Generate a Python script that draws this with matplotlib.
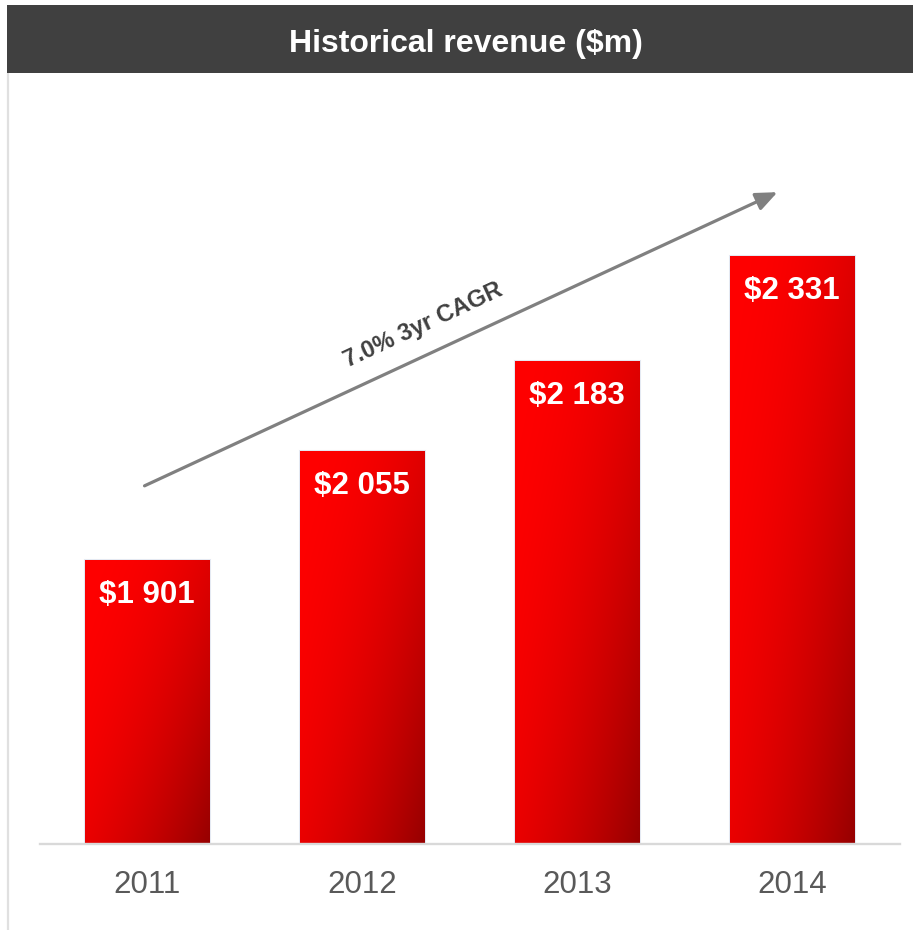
import numpy as np
import matplotlib
matplotlib.use("Agg")
import matplotlib.pyplot as plt
from matplotlib.patches import Rectangle, FancyArrowPatch

plt.rcParams['font.family'] = ['Liberation Sans', 'DejaVu Sans']

# Revenue by year ($m)
years = ["2011", "2012", "2013", "2014"]
revenue = [1901, 2055, 2183, 2331]
value_labels = ["$1 901", "$2 055", "$2 183", "$2 331"]
title = "Historical revenue ($m)"
cagr_label = "7.0% 3yr CAGR"

W, H = 913, 930
fig = plt.figure(figsize=(W / 100, H / 100), dpi=100)
fig.patch.set_facecolor("white")

# ---- bar panel ----
px_left, px_right = 39.5, 899.5
px_top, px_base = 100, 844
ax = fig.add_axes([px_left / W, (H - px_base) / H,
                   (px_right - px_left) / W, (px_base - px_top) / H])
ax.set_facecolor("white")
y0 = 1500
y1 = y0 + (px_base - px_top) / 0.7077
ax.set_xlim(-0.5, 3.5)
ax.set_ylim(y0, y1)

x = np.arange(len(years))
bar_w = 0.577

# diagonal red gradient: bright red top-left, dark red bottom-right
nx, ny = 120, 300
u = np.linspace(0, 1, nx)[None, :]
v = np.linspace(1, 0, ny)[:, None]  # image row 0 is top after origin='upper'
t = np.clip(0.55 * u + 0.45 * (1 - v), 0, 1) ** 2
red = (255 - t * (255 - 150)) / 255.0
grad = np.dstack([red, np.zeros_like(red), np.zeros_like(red)])

bars = ax.bar(x, [r - y0 for r in revenue], bottom=y0, width=bar_w,
              facecolor="white", edgecolor="#e4e9f2", linewidth=2.2, zorder=1)
for b, xi, val in zip(bars, x, revenue):
    im = ax.imshow(grad, extent=(xi - bar_w / 2, xi + bar_w / 2, y0, val),
                   origin="upper", aspect="auto", interpolation="bilinear",
                   zorder=2)
    im.set_clip_path(b)

for xi, val, lab in zip(x, revenue, value_labels):
    ax.annotate(lab, xy=(xi, val), xytext=(0, -31), textcoords="offset points",
                ha="center", va="baseline", color="white", fontsize=22.5,
                fontweight="bold", zorder=3)

ax.set_xlim(-0.5, 3.5)
ax.set_ylim(y0, y1)
for s in ("top", "right", "left"):
    ax.spines[s].set_visible(False)
ax.spines["bottom"].set_color("#d9d9d9")
ax.spines["bottom"].set_linewidth(1.7)
ax.spines["bottom"].set_zorder(4)
ax.set_yticks([])
ax.set_xticks(x)
ax.set_xticklabels(years, fontsize=22.5, color="#595959")
ax.tick_params(axis="x", length=0, pad=19)

# ---- overlay in pixel coordinates: header, frame, growth arrow ----
ov = fig.add_axes([0, 0, 1, 1], zorder=5)
ov.set_xlim(0, W)
ov.set_ylim(H, 0)
ov.axis("off")
ov.patch.set_alpha(0)

ov.add_patch(Rectangle((7, 5), W - 7, 68, facecolor="#404040", edgecolor="none"))
ov.text(466, 52, title, ha="center", va="baseline", color="white",
        fontsize=23, fontweight="bold")
ov.plot([8, 8], [73, H], color="#e0e0e0", lw=1.6, solid_capstyle="butt")

arrow = FancyArrowPatch((142, 487), (780, 191),
                        arrowstyle="-|>,head_length=13,head_width=5.5",
                        mutation_scale=1, color="#808080", lw=2.3)
ov.add_patch(arrow)
ov.text(423, 325, cagr_label, rotation=25, rotation_mode="anchor",
        ha="center", va="center", color="#404040", fontsize=17,
        fontweight="bold")

fig.savefig("out.png", dpi=100)
